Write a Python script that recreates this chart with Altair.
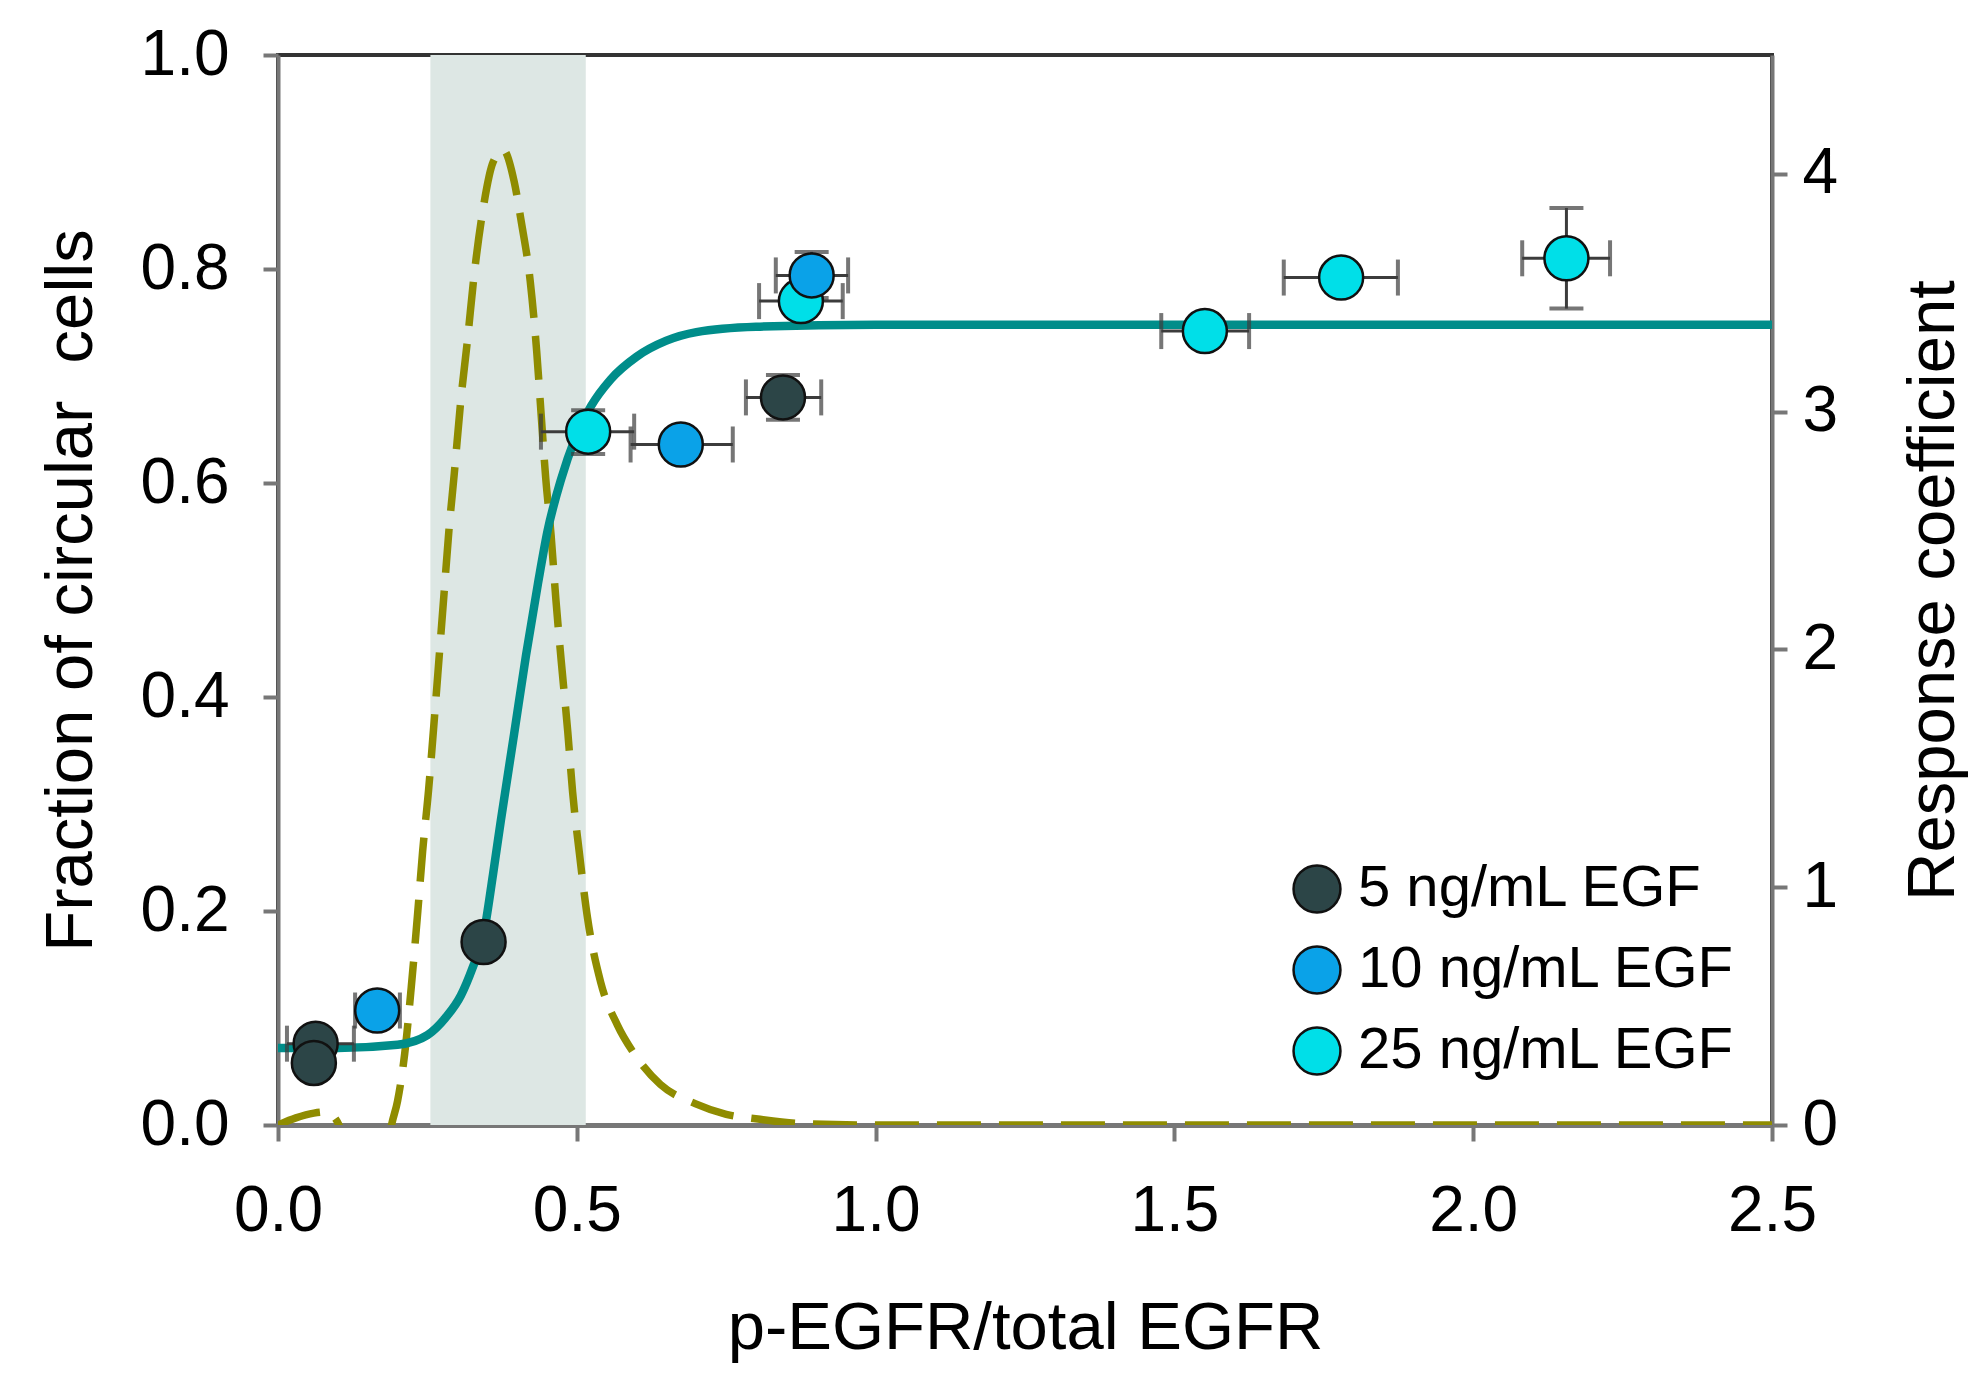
import altair as alt
import pandas as pd

FONT = "Liberation Sans"

# ---- data ----
groups = ["5 ng/mL EGF", "10 ng/mL EGF", "25 ng/mL EGF"]
group_colors = ["#2c4547", "#0aa2e8", "#00dfe8"]

pt_group = ["25 ng/mL EGF"] * 5 + ["10 ng/mL EGF"] * 3 + ["5 ng/mL EGF"] * 4
pt_x = [0.519, 0.875, 1.551, 1.779, 2.156, 0.166, 0.674, 0.893, 0.063, 0.060, 0.344, 0.845]
pt_y = [0.648, 0.770, 0.742, 0.792, 0.810, 0.107, 0.636, 0.794, 0.076, 0.058, 0.171, 0.680]
pt_xlo = [0.440, 0.805, 1.478, 1.683, 2.082, 0.129, 0.590, 0.833, 0.015, 0.060, 0.344, 0.783]
pt_xhi = [0.596, 0.945, 1.625, 1.874, 2.229, 0.204, 0.761, 0.954, 0.127, 0.060, 0.344, 0.909]
pt_ylo = [0.627, 0.770, 0.742, 0.792, 0.763, 0.107, 0.636, 0.773, 0.076, 0.058, 0.171, 0.659]
pt_yhi = [0.668, 0.770, 0.742, 0.792, 0.857, 0.107, 0.636, 0.816, 0.076, 0.058, 0.171, 0.701]

fit_x = [0.0, 0.10, 0.20, 0.25, 0.28, 0.306, 0.325, 0.344, 0.36, 0.373, 0.395, 0.415, 0.435,
         0.451, 0.474, 0.496, 0.524, 0.557, 0.60, 0.65, 0.70, 0.80, 1.0, 1.5, 2.0, 2.5]
fit_y = [0.072, 0.072, 0.075, 0.084, 0.100, 0.121, 0.146, 0.178, 0.235, 0.285, 0.365, 0.439, 0.506,
         0.555, 0.604, 0.640, 0.672, 0.697, 0.718, 0.733, 0.741, 0.746, 0.748, 0.748, 0.748, 0.748]

rc_x = [0.0, 0.03, 0.06, 0.08, 0.095, 0.102, 0.13, 0.16, 0.18, 0.19, 0.20, 0.212, 0.223, 0.234,
        0.242, 0.252, 0.262, 0.27, 0.278, 0.286, 0.295, 0.306, 0.317, 0.328, 0.343, 0.36, 0.377,
        0.395, 0.407, 0.422, 0.433, 0.44, 0.448, 0.457, 0.465, 0.474, 0.485, 0.493, 0.504, 0.518,
        0.54, 0.568, 0.596, 0.64, 0.698, 0.75, 0.803, 0.875, 1.0, 1.5, 2.0, 2.5]
rc_y = [0.0, 0.03, 0.05, 0.055, 0.03, 0.0, -0.3, -0.35, -0.15, 0.0, 0.10, 0.30, 0.58, 0.90,
        1.15, 1.41, 1.72, 1.98, 2.24, 2.50, 2.74, 3.05, 3.30, 3.57, 3.85, 4.05, 4.10,
        3.97, 3.80, 3.55, 3.25, 3.00, 2.72, 2.48, 2.21, 1.95, 1.65, 1.40, 1.15, 0.87,
        0.60, 0.42, 0.30, 0.17, 0.09, 0.045, 0.025, 0.006, 0.0, 0.0, 0.0, 0.0]

band_start = [0.255]
band_end = [0.515]

x_ticks = [0.0, 0.5, 1.0, 1.5, 2.0, 2.5]
y_ticks = [0.0, 0.2, 0.4, 0.6, 0.8, 1.0]
r_ticks = [0, 1, 2, 3, 4]

pts = pd.DataFrame({"grp": pt_group, "x": pt_x, "y": pt_y, "xlo": pt_xlo, "xhi": pt_xhi,
                    "ylo": pt_ylo, "yhi": pt_yhi})
fit = pd.DataFrame({"x": fit_x, "y": fit_y})
rc = pd.DataFrame({"x": rc_x, "r": rc_y})
band = pd.DataFrame({"x0": band_start, "x1": band_end})

W, H = 1494, 1070
AX = "#777777"
ERR = "#3c3c3c"
LBL = 64
TTL = 67

xscale = alt.Scale(domain=[0, 2.5], nice=False, zero=False)
yscale = alt.Scale(domain=[0, 1], nice=False)
rscale = alt.Scale(domain=[0, 4.5], nice=False)

x_axis = alt.Axis(values=x_ticks, format=".1f", title="p-EGFR/total EGFR", grid=False,
                  tickSize=16, tickWidth=4, tickColor=AX, domainColor=AX, domainWidth=5,
                  labelPadding=38, labelFontSize=LBL, labelFlush=False,
                  titleFontSize=TTL, titleX=W / 2, titleY=223, titleAlign="center",
                  titleBaseline="alphabetic")
y_axis = alt.Axis(values=y_ticks, format=".1f", orient="left",
                  title="Fraction of circular\u00a0 cells", grid=False,
                  tickSize=15, tickWidth=4, tickColor=AX, domainColor=AX, domainWidth=4,
                  labelPadding=34, labelFontSize=LBL,
                  titleFontSize=TTL, titleAngle=270, titleX=-187, titleY=H / 2,
                  titleAlign="center", titleBaseline="alphabetic")
r_axis = alt.Axis(values=r_ticks, format="d", orient="right", title="Response coefficient",
                  grid=False, tickSize=15, tickWidth=4, tickColor=AX, domainColor=AX,
                  domainWidth=4, labelPadding=15, labelFontSize=LBL,
                  titleFontSize=TTL, titleAngle=270, titleX=181, titleY=H / 2,
                  titleAlign="center", titleBaseline="alphabetic")

X = lambda f: alt.X(f, type="quantitative", scale=xscale, axis=x_axis)
Y = lambda f: alt.Y(f, type="quantitative", scale=yscale, axis=y_axis)

band_layer = alt.Chart(band).mark_rect(color="#dde7e4").encode(
    x=X("x0"), x2="x1", y=alt.value(0), y2=alt.value(H))

rc_layer = alt.Chart(rc).mark_line(color="#8f8c00", strokeWidth=7.5, strokeDash=[44, 18],
                                   interpolate="monotone", clip=True).encode(
    x=X("x"), y=alt.Y("r:Q", scale=rscale, axis=r_axis))

right_group = alt.layer(band_layer, rc_layer)

fit_layer = alt.Chart(fit).mark_line(color="#008d8a", strokeWidth=8.5,
                                     interpolate="monotone").encode(x=X("x"), y=Y("y"))

xerr = alt.Chart(pts).mark_rule(color=ERR, strokeWidth=3).encode(x=X("xlo"), x2="xhi", y=Y("y"))
xcap_lo = alt.Chart(pts).mark_tick(color=ERR, orient="vertical", size=36, thickness=4).encode(
    x=X("xlo"), y=Y("y"))
xcap_hi = alt.Chart(pts).mark_tick(color=ERR, orient="vertical", size=36, thickness=4).encode(
    x=X("xhi"), y=Y("y"))
yerr = alt.Chart(pts).mark_rule(color=ERR, strokeWidth=3).encode(x=X("x"), y=Y("ylo"), y2="yhi")
ycap_lo = alt.Chart(pts).mark_tick(color=ERR, orient="horizontal", size=34, thickness=4).encode(
    x=X("x"), y=Y("ylo"))
ycap_hi = alt.Chart(pts).mark_tick(color=ERR, orient="horizontal", size=34, thickness=4).encode(
    x=X("x"), y=Y("yhi"))

points = alt.Chart(pts).mark_point(filled=True, shape="circle", size=1936, opacity=1,
                                   stroke="#111111", strokeWidth=2.5).encode(
    x=X("x"), y=Y("y"),
    color=alt.Color("grp:N", scale=alt.Scale(domain=groups, range=group_colors),
                    sort=groups,
                    legend=alt.Legend(title=None, orient="none", legendX=1010, legendY=805,
                                      symbolType="circle", symbolSize=2200,
                                      symbolStrokeColor="#111111", symbolStrokeWidth=2.5,
                                      symbolOpacity=1, labelFont=FONT, labelFontSize=58,
                                      labelColor="black", labelLimit=900, rowPadding=23,
                                      labelOffset=12, padding=0)))

left_group = alt.layer(fit_layer, xerr, xcap_lo, xcap_hi, yerr, ycap_lo, ycap_hi, points)

chart = alt.layer(right_group, left_group).resolve_scale(y="independent").properties(
    width=W, height=H,
    autosize=alt.AutoSizeParams(type="none"),
    padding={"left": 270, "top": 47, "right": 200, "bottom": 250},
    background="white",
).configure_view(stroke="#333333", strokeWidth=4).configure_axis(
    labelFont=FONT, titleFont=FONT, labelColor="black", titleColor="black",
    titleFontWeight="normal")

chart.save("out.html", embed_options={"renderer": "svg", "actions": False})
